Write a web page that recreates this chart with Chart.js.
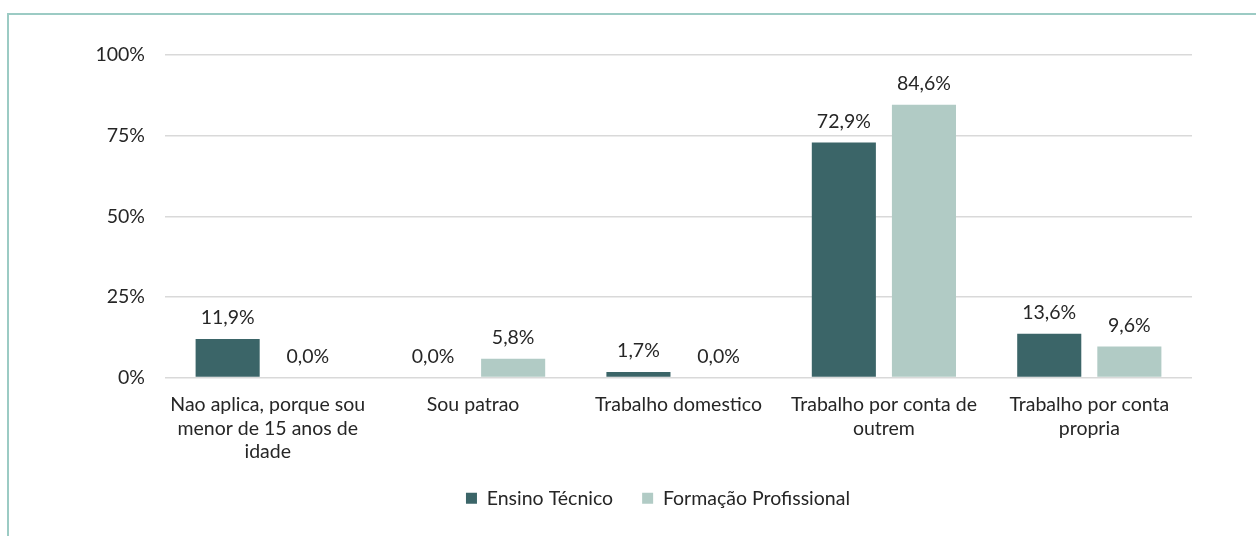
<!DOCTYPE html>
<html>
<head>
<meta charset="utf-8">
<script src="https://cdn.jsdelivr.net/npm/chart.js@4.4.1/dist/chart.umd.min.js"></script>
<style>
  html, body { margin: 0; padding: 0; background: #fff; overflow: hidden; }
  #wrap { position: relative; width: 1256px; height: 536px; }
  #frame { position: absolute; left: 7px; top: 13px; width: 1300px; height: 600px;
           border-left: 2px solid #9ccbc4; border-top: 2px solid #9ccbc4; box-sizing: border-box; }
  canvas { position: absolute; left: 0; top: 0; }
</style>
</head>
<body>
<div id="wrap">
  <div id="frame"></div>
  <canvas id="chart" width="1256" height="536"></canvas>
</div>
<script>
// Situação profissional por tipo de formação (%)
const categories = [
  ["Nao aplica, porque sou", "menor de 15 anos de", "idade"],
  "Sou patrao",
  "Trabalho domestico",
  ["Trabalho por conta de", "outrem"],
  ["Trabalho por conta", "propria"]
];
const ensinoTecnico = [11.9, 0.0, 1.7, 72.9, 13.6];
const formacaoProfissional = [0.0, 5.8, 0.0, 84.6, 9.6];
const yTicks = [0, 25, 50, 75, 100];

const FONT = "Lato, 'Open Sans', sans-serif";
const SIZE = 19.5;
const TEXT = "#262626";

function fmt(v) {
  return v.toFixed(1).replace(".", ",") + "%";
}

// Writes each bar's value just above it
const valueLabels = {
  id: "valueLabels",
  afterDatasetsDraw(chart) {
    const ctx = chart.ctx;
    ctx.save();
    ctx.font = SIZE + "px " + FONT;
    ctx.fillStyle = TEXT;
    ctx.textAlign = "center";
    ctx.textBaseline = "middle";
    chart.data.datasets.forEach((ds, i) => {
      chart.getDatasetMeta(i).data.forEach((bar, j) => {
        ctx.fillText(fmt(ds.data[j]), bar.x, bar.y - 21);
      });
    });
    ctx.restore();
  }
};

// Nudges the legend so it sits centred under the plot rather than the canvas
const legendShift = {
  id: "legendShift",
  afterLayout(chart) {
    const lg = chart.legend;
    if (lg) { lg.left += 62; lg.right += 62; }
  }
};

new Chart(document.getElementById("chart"), {
  type: "bar",
  data: {
    labels: categories,
    datasets: [
      { label: "Ensino Técnico", data: ensinoTecnico, backgroundColor: "#3b6568" },
      { label: "Formação Profissional", data: formacaoProfissional, backgroundColor: "#b1cbc5" }
    ]
  },
  options: {
    responsive: false,
    animation: false,
    layout: { padding: { top: 55, right: 64, left: 0, bottom: 18 } },
    datasets: { bar: { categoryPercentage: 0.78, barPercentage: 0.8 } },
    scales: {
      x: {
        grid: { display: false, drawTicks: false },
        border: { display: false },
        ticks: { color: TEXT, font: { family: FONT, size: SIZE }, padding: 16, maxRotation: 0, autoSkip: false },
        afterFit(scale) { scale.height = 82; }
      },
      y: {
        min: 0, max: 100,
        afterBuildTicks(scale) { scale.ticks = yTicks.map(v => ({ value: v })); },
        grid: { color: "#d9d9d9", lineWidth: 1.5, drawTicks: false },
        border: { display: false },
        ticks: { color: TEXT, font: { family: FONT, size: SIZE }, padding: 20, callback: v => v + "%" },
        afterFit(scale) { scale.width = 165; }
      }
    },
    plugins: {
      legend: {
        position: "bottom",
        labels: { color: TEXT, font: { family: FONT, size: SIZE }, boxWidth: 11, boxHeight: 11, padding: 29 }
      },
      tooltip: { enabled: false }
    }
  },
  plugins: [valueLabels, legendShift]
});
</script>
</body>
</html>
